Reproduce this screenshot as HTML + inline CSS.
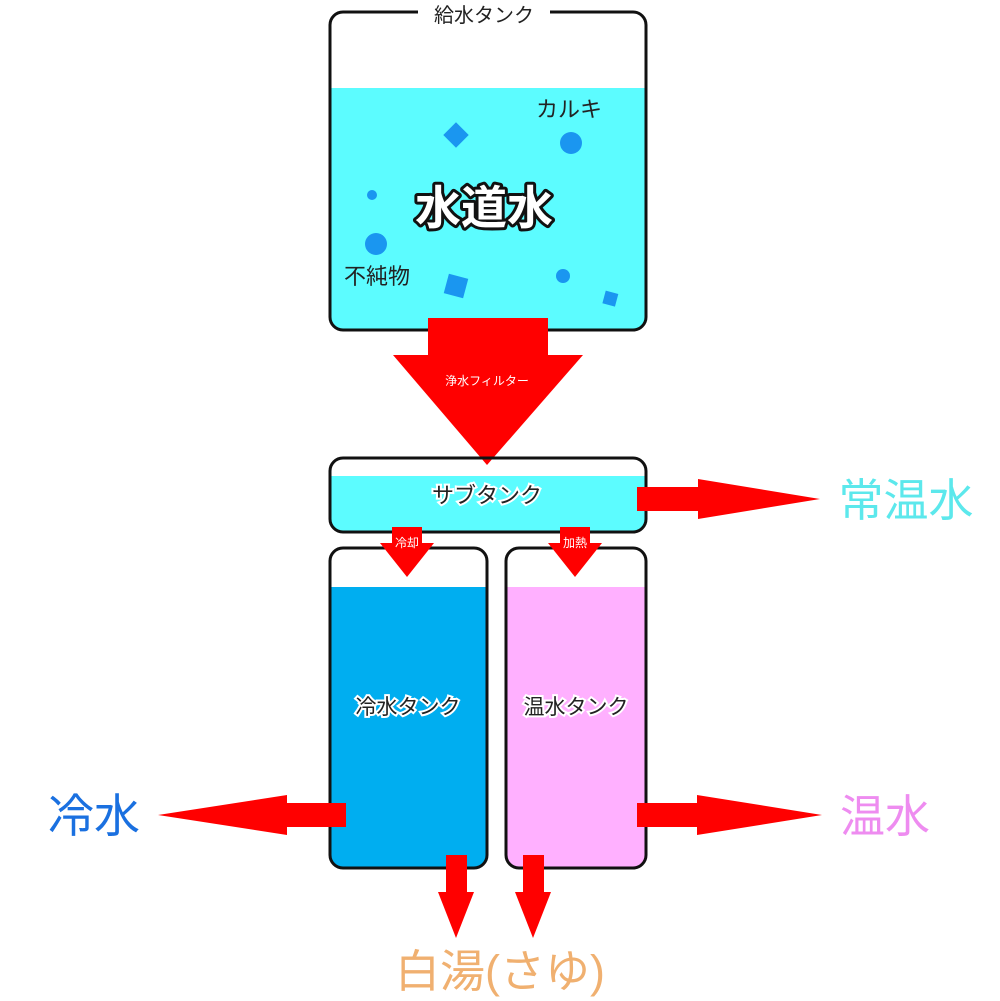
<!DOCTYPE html>
<html><head><meta charset="utf-8"><style>
html,body{margin:0;padding:0;background:#fff;}
svg{display:block;}
text{font-family:"Liberation Sans","Noto Sans CJK JP",sans-serif;}
</style></head><body>
<svg width="1000" height="1001" viewBox="0 0 1000 1001" xmlns="http://www.w3.org/2000/svg">
<defs>
<clipPath id="c1"><rect x="330" y="12" width="316" height="318" rx="13"/></clipPath>
<clipPath id="c2"><rect x="330" y="458" width="316" height="74" rx="13"/></clipPath>
<clipPath id="c3"><rect x="330" y="548" width="157" height="320" rx="13"/></clipPath>
<clipPath id="c4"><rect x="506" y="548" width="140" height="320" rx="13"/></clipPath>
</defs>
<rect x="330" y="88" width="316" height="250" fill="#5cfcff" clip-path="url(#c1)"/>
<rect x="330" y="12" width="316" height="318" rx="13" fill="none" stroke="#111" stroke-width="3"/>
<rect x="418" y="2" width="132" height="22" fill="#fff"/>
<text x="484" y="22" font-size="20" text-anchor="middle" fill="#222">給水タンク</text>
<text x="569" y="117" font-size="22" text-anchor="middle" fill="#222">カルキ</text>
<text x="377" y="284" font-size="22" text-anchor="middle" fill="#222">不純物</text>
<text x="484" y="224" font-size="46" font-weight="bold" text-anchor="middle" fill="#fff" stroke="#111" stroke-width="6" paint-order="stroke" stroke-linejoin="round">水道水</text>
<g fill="#1a96f0">
<rect x="447" y="126" width="18" height="18" transform="rotate(45 456 135)"/>
<circle cx="571" cy="143" r="11"/>
<circle cx="372" cy="195" r="5"/>
<circle cx="376" cy="244" r="11"/>
<rect x="446" y="276" width="20" height="20" transform="rotate(15 456 286)"/>
<circle cx="563" cy="276" r="7"/>
<rect x="604" y="292" width="13" height="13" transform="rotate(15 610 298)"/>
</g>
<rect x="428" y="318" width="120" height="40" fill="#f00"/>
<polygon points="393,355 583,355 487,465" fill="#f00"/>
<text x="487" y="385" font-size="12" text-anchor="middle" fill="#fff">浄水フィルター</text>
<rect x="330" y="476" width="316" height="60" fill="#5cfcff" clip-path="url(#c2)"/>
<rect x="330" y="458" width="316" height="74" rx="13" fill="none" stroke="#111" stroke-width="3"/>
<text x="487" y="503" font-size="22" text-anchor="middle" fill="#222" stroke="#fff" stroke-width="4" paint-order="stroke">サブタンク</text>
<rect x="637" y="487" width="63" height="24" fill="#f00"/>
<polygon points="698,479 698,519 820,499" fill="#f00"/>
<text x="906" y="516" font-size="45" text-anchor="middle" fill="#5ce8ec">常温水</text>
<rect x="330" y="587" width="157" height="290" fill="#00aef0" clip-path="url(#c3)"/>
<rect x="330" y="548" width="157" height="320" rx="13" fill="none" stroke="#111" stroke-width="3"/>
<text x="408" y="714" font-size="21" text-anchor="middle" fill="#222" stroke="#fff" stroke-width="4" paint-order="stroke">冷水タンク</text>
<rect x="506" y="587" width="140" height="290" fill="#ffb0ff" clip-path="url(#c4)"/>
<rect x="506" y="548" width="140" height="320" rx="13" fill="none" stroke="#111" stroke-width="3"/>
<text x="576" y="714" font-size="21" text-anchor="middle" fill="#222" stroke="#fff" stroke-width="4" paint-order="stroke">温水タンク</text>
<rect x="392" y="527" width="30" height="22" fill="#f00"/>
<polygon points="380,543 434,543 407,577" fill="#f00"/>
<text x="407" y="547" font-size="12" text-anchor="middle" fill="#fff">冷却</text>
<rect x="560" y="527" width="30" height="22" fill="#f00"/>
<polygon points="548,543 602,543 575,577" fill="#f00"/>
<text x="575" y="547" font-size="12" text-anchor="middle" fill="#fff">加熱</text>
<rect x="285" y="803" width="61" height="24" fill="#f00"/>
<polygon points="287,795 287,835 158,815" fill="#f00"/>
<text x="94" y="832" font-size="46" text-anchor="middle" fill="#1a70e0">冷水</text>
<rect x="637" y="803" width="63" height="24" fill="#f00"/>
<polygon points="697,795 697,835 822,815" fill="#f00"/>
<text x="885" y="832" font-size="45" text-anchor="middle" fill="#ee8cf0">温水</text>
<rect x="446" y="855" width="21" height="40" fill="#f00"/>
<polygon points="438,892 474,892 456,938" fill="#f00"/>
<rect x="523" y="855" width="21" height="40" fill="#f00"/>
<polygon points="515,892 551,892 533,938" fill="#f00"/>
<text x="500" y="987" font-size="45" text-anchor="middle" fill="#f0b070">白湯(さゆ)</text>
</svg>
</body></html>
